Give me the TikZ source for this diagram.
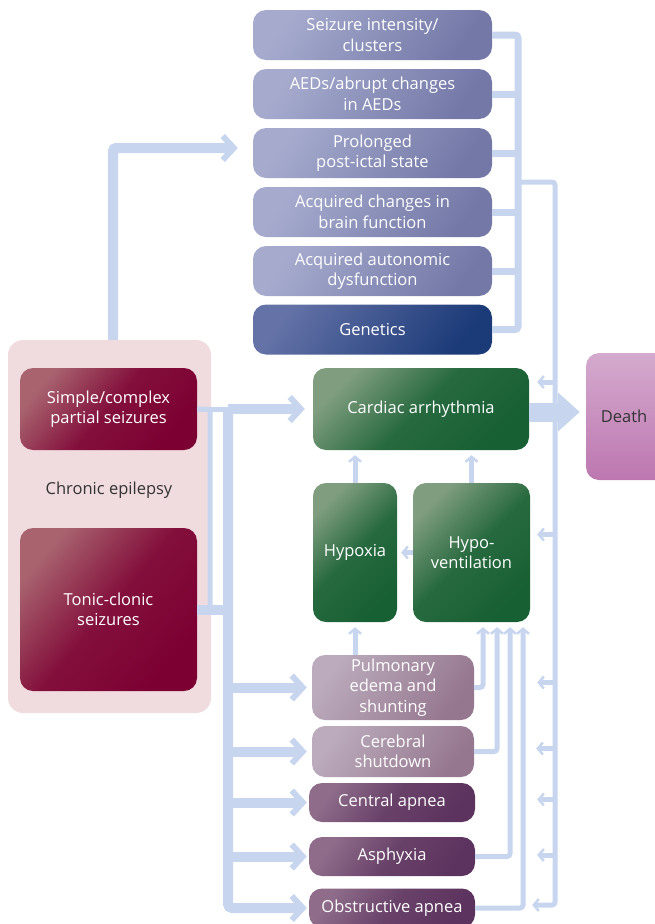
\documentclass[tikz,border=0pt]{standalone}
\usepackage{fontspec}
\setmainfont{Open Sans}
\usetikzlibrary{arrows.meta, calc}
\definecolor{link}{HTML}{C7D6EE}
\definecolor{riskL}{HTML}{A6ABCE}
\definecolor{riskR}{HTML}{7378A7}
\definecolor{genL}{HTML}{6472A7}
\definecolor{genR}{HTML}{1B3A78}
\definecolor{seizL}{HTML}{A8636F}
\definecolor{seizR}{HTML}{7C0032}
\definecolor{mechL}{HTML}{809E7F}
\definecolor{mechR}{HTML}{176033}
\definecolor{paleL}{HTML}{BBABBC}
\definecolor{paleR}{HTML}{95778F}
\definecolor{deepL}{HTML}{8E6C8A}
\definecolor{deepR}{HTML}{5C335E}
\definecolor{deathT}{HTML}{D4AACE}
\definecolor{deathB}{HTML}{BD77B0}
\definecolor{panel}{HTML}{F0DBDF}
\definecolor{dtext}{HTML}{333333}

\begin{document}
\begin{tikzpicture}[x=1pt,y=-1pt,
  txt/.style={font=\fontsize{16.5}{20.5}\selectfont},
  box/.style={txt,rounded corners=13pt,text=white,align=center,inner sep=1pt},
  risk/.style={box,left color=riskL,right color=riskR,shading angle=55,minimum width=239pt,minimum height=50pt},
  seiz/.style={box,left color=seizL,right color=seizR,middle color=seizR!85!seizL,shading angle=50,minimum width=177pt},
  mech/.style={box,left color=mechL,right color=mechR,middle color=mechR!85!mechL,shading angle=45},
  pale/.style={box,left color=paleL,right color=paleR,shading angle=55,minimum width=162pt},
  deep/.style={box,left color=deepL,right color=deepR,middle color=deepR!75!deepL,shading angle=55,minimum width=166pt,minimum height=39pt},
  bus/.style={draw=link,line width=7pt,rounded corners=3pt},
  lkline/.style={draw=link,line width=5pt,rounded corners=3pt},
  lk/.style={lkline,-{Straight Barb[length=5pt,width=12pt,line width=2.5pt]}},
  fatline/.style={draw=link,line width=10pt,rounded corners=4pt},
  fat/.style={fatline,-{Straight Barb[length=11pt,width=24pt,line width=6pt]}}]
  \useasboundingbox (0,0) rectangle (655,924);
  \clip (0,0) rectangle (655,924);
  % risk factors
  \node[risk] (s1) at (372.5,35) {Seizure intensity/\\clusters};
  \node[risk] (s2) at (372.5,94) {AEDs/abrupt changes\\in AEDs};
  \node[risk] (s3) at (372.5,153) {Prolonged\\post-ictal state};
  \node[risk] (s4) at (372.5,212) {Acquired changes in\\brain function};
  \node[risk] (s5) at (372.5,271) {Acquired autonomic\\dysfunction};
  \node[risk,left color=genL,right color=genR,shading angle=55] (gen) at (372.5,329.5) {Genetics};
  % chronic epilepsy
  \node[fill=panel,rounded corners=15pt,minimum width=203pt,minimum height=373pt] (panel) at (109.5,526.5) {};
  \node[seiz,minimum height=82pt] (partial) at (108.5,409) {Simple/complex\\partial seizures};
  \node[txt,text=dtext] (chronic) at (109,490) {Chronic epilepsy};
  \node[seiz,minimum height=163pt] (tonic) at (108.5,609.5) {Tonic-clonic\\seizures};
  % mechanisms
  \node[mech,minimum width=216pt,minimum height=82pt] (cardiac) at (421,409) {Cardiac arrhythmia};
  \node[mech,minimum width=84pt,minimum height=139pt] (hypoxia) at (355,552.5) {Hypoxia};
  \node[mech,minimum width=117pt,minimum height=139pt] (hypovent) at (471.5,552.5) {Hypo-\\ventilation};
  \node[rounded corners=13pt,top color=deathT,bottom color=deathB,minimum width=100pt,minimum height=127pt,
    label={[txt,text=dtext,xshift=-12pt]center:Death}] (death) at (636,416.5) {};
  \node[pale,minimum height=65pt] (pulm) at (393,687.5) {Pulmonary\\edema and\\shunting};
  \node[pale,minimum height=51pt] (cereb) at (393,751.5) {Cerebral\\shutdown};
  \node[deep] (central) at (392,802.5) {Central apnea};
  \node[deep] (asph) at (392,856.5) {Asphyxia};
  \node[deep] (obst) at (392,908) {Obstructive apnea};
  % right bus and trunk
  \coordinate (rb) at (518,0);
  \coordinate (rt) at (555,182);
  \draw[bus] (s1.east) -| (rb |- gen.east) -- (gen.east);
  \foreach \n in {s2,s3,s4,s5} \draw[bus] (\n.east) -- (rb |- \n.east);
  \draw[lk] (rb |- rt) -- (rt) |- ($(obst.east)+(57,-3)$);
  \foreach \n/\d/\s in {cardiac/-27/8,hypovent/-18/7,pulm/-5/63,cereb/-3/62,central/-3/62,asph/-1.5/62}
    \draw[lk,shorten >=\s pt] ($(rt |- \n.east)+(0,\d)$) -- ($(\n.east)+(0,\d)$);
  % left bus
  \coordinate (lb) at (228,409);
  \draw[lkline] (partial.east) -- (lb);
  \draw[lkline] (partial.east) -| ($(tonic.east)+(13,0)$);
  \draw[fatline] (tonic.east) -- (lb |- tonic.east);
  \draw[fat,shorten >=8pt] (lb) -- (cardiac.west);
  \draw[fat,shorten >=2pt] (lb) |- (obst.west);
  \foreach \n/\s in {pulm/5,cereb/5,central/2,asph/2}
    \draw[fat,shorten >=\s pt] (lb |- \n.west) -- (\n.west);
  \draw[fat,rounded corners=3pt,shorten >=15pt] ($(panel.north)+(3.5,0)$) |- ($(s3.west)+(0,-5)$);
  % between mechanisms
  \draw[lk,shorten >=5pt] (hypoxia.north) -- (hypoxia.north |- cardiac.south);
  \draw[lk,shorten >=5pt] (hypovent.north) -- (hypovent.north |- cardiac.south);
  \draw[lk,shorten >=4pt] (hypovent.west) -- (hypoxia.east);
  \draw[lk,shorten >=5pt] (hypoxia.south |- pulm.north) -- (hypoxia.south);
  \draw[lk,shorten >=5pt] (pulm.east) -| ($(hypovent.south)+(11.5,0)$);
  \draw[lk,shorten >=5pt] (cereb.east) -| ($(hypovent.south)+(25.5,0)$);
  \draw[lk,shorten >=5pt] (asph.east) -| ($(hypovent.south)+(38.5,0)$);
  \draw[lk,shorten >=5pt] (obst.east) -| ($(hypovent.south)+(51.5,0)$);
  % to death
  \draw[draw=link,line width=19pt,-{Triangle[length=22pt,width=38pt]},shorten >=6pt]
    ($(cardiac.east)+(0,3)$) -- ($(death.west)+(0,-4.5)$);
\end{tikzpicture}
\end{document}
